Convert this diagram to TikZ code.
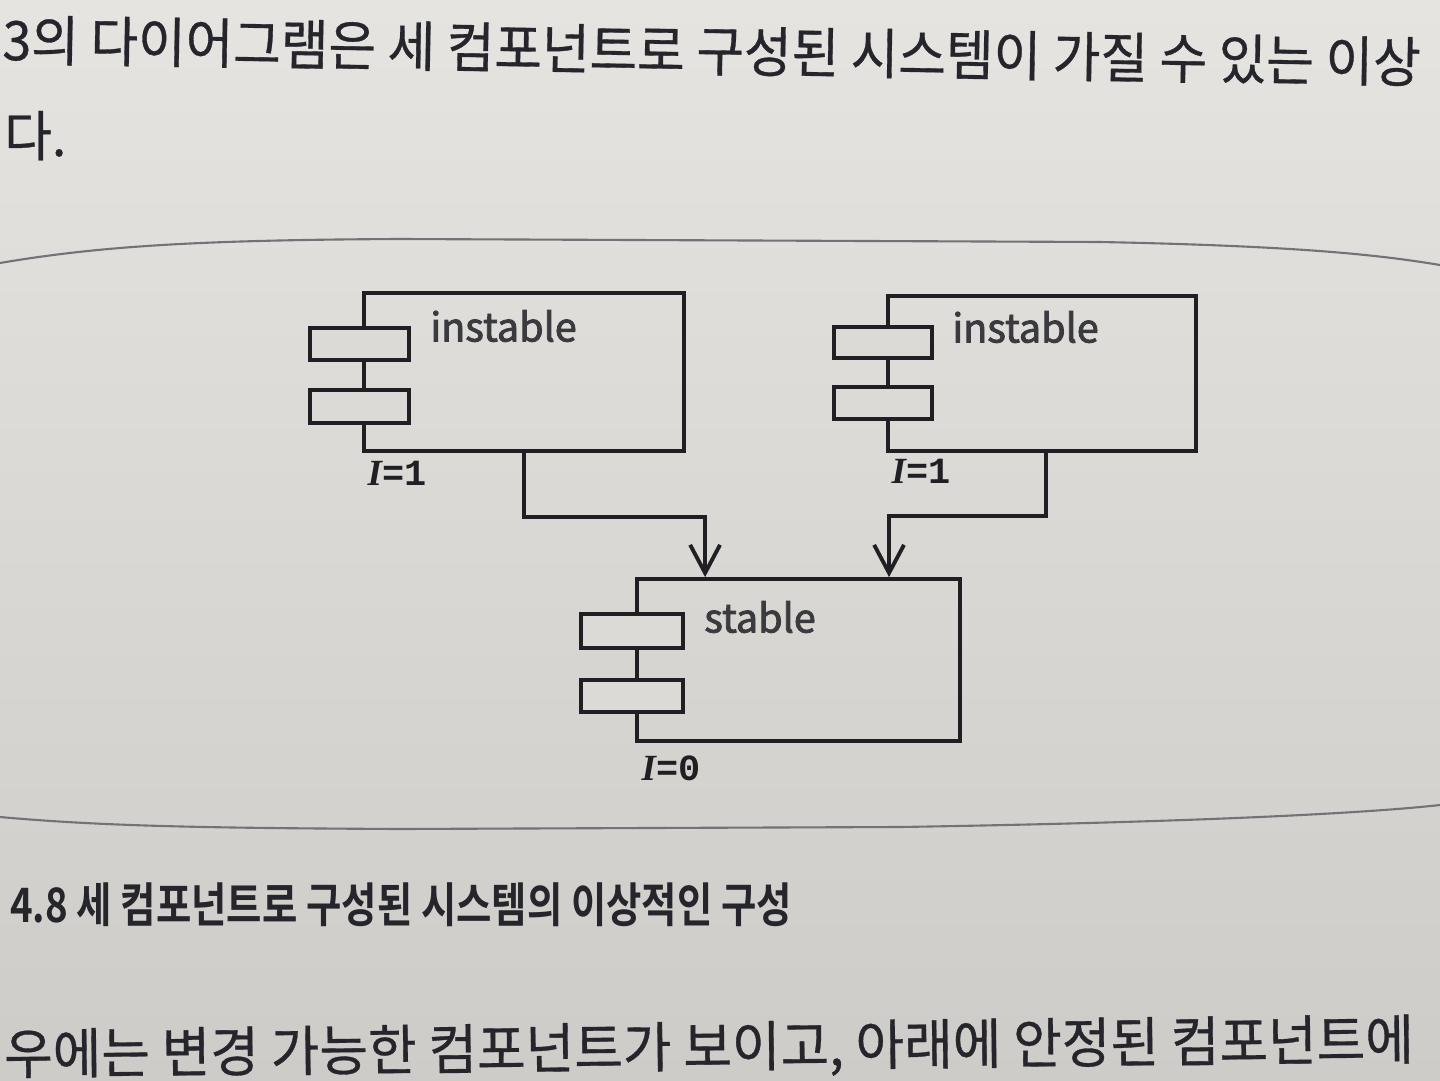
\documentclass[tikz,border=0pt]{standalone}
\usepackage{fontspec}
\setmainfont{Noto Sans CJK KR}
\newfontfamily\kr{Noto Sans CJK KR}[FakeBold=0.6]
\newfontfamily\krb{Noto Sans CJK KR}[BoldFont={* Bold}]
\newfontfamily\lab{Noto Sans CJK KR}[FakeBold=2.2]
\newfontfamily\serifI{Liberation Serif}
\newfontfamily\monob{Liberation Mono}
\usetikzlibrary{arrows.meta,calc}
\definecolor{paper}{RGB}{219,218,214}
\definecolor{papertop}{RGB}{229,228,225}
\definecolor{paperbot}{RGB}{206,204,200}
\definecolor{ink}{RGB}{32,31,36}
\definecolor{txt}{RGB}{38,37,43}
\definecolor{rule}{RGB}{115,114,118}
\tikzset{
  mainbox/.style={draw=ink, line width=2.2pt, fill=none, inner sep=0pt},
  tab/.style={draw=ink, line width=2.2pt, fill=paper, inner sep=0pt},
  conn/.style={draw=ink, line width=2.2pt, -{Straight Barb[length=16pt,width=17pt,line width=2.2pt]}},
  comptext/.style={anchor=west, inner sep=0pt, text=ink!88!white, font=\lab\fontsize{22.5}{27}\selectfont},
  ilabel/.style={inner sep=0pt, text=ink, font=\fontsize{21}{24}\selectfont},
  bodytext/.style={anchor=base west, inner sep=0pt, text=txt},
}
\newcommand{\Ilab}[1]{{\serifI\bfseries\itshape I}{\monob\bfseries =#1}}
\begin{document}
\begin{tikzpicture}[x=0.02cm,y=-0.02cm]
\useasboundingbox (0,0) rectangle (1440,1081);
\shade[top color=papertop, bottom color=paperbot] (0,0) rectangle (1440,1081);
% body text
\node[bodytext, rotate=-0.9, font=\kr\fontsize{31}{36}\selectfont, xscale=0.95] (t1) at (2,60)
  {3의 다이어그램은 세 컴포넌트로 구성된 시스템이 가질 수 있는 이상};
\node[bodytext, font=\kr\fontsize{31}{36}\selectfont, xscale=0.95] (t2) at (4,156) {다.};
\node[bodytext, rotate=0.6, font=\kr\fontsize{31}{36}\selectfont, xscale=0.97] (t3) at (4,1074)
  {우에는 변경 가능한 컴포넌트가 보이고, 아래에 안정된 컴포넌트에};
% caption
\node[bodytext, font=\krb\bfseries\fontsize{27}{32}\selectfont, xscale=0.81] (cap) at (10,922)
  {4.8 세 컴포넌트로 구성된 시스템의 이상적인 구성};
% frame rules
\draw[rule, line width=1.2pt] (0,263) .. controls (100,246) and (200,240) .. (400,239) -- (1100,242) .. controls (1300,246) and (1380,255) .. (1440,265);
\draw[rule, line width=1.2pt] (0,817) .. controls (100,826) and (200,828) .. (400,829) -- (900,827) .. controls (1150,823) and (1350,815) .. (1440,805);
% components
\node[mainbox, minimum width=6.4cm, minimum height=3.16cm] (L) at (524,372) {};
\node[tab, minimum width=1.98cm, minimum height=0.64cm] (L1) at (359.5,344) {};
\node[tab, minimum width=1.98cm, minimum height=0.66cm] (L2) at (359.5,406.5) {};
\node[comptext] (Lt) at (430,326) {instable};
\node[ilabel] (Li) at (397,473) {\Ilab{1}};

\node[mainbox, minimum width=6.16cm, minimum height=3.1cm] (R) at (1042,373.5) {};
\node[tab, minimum width=1.96cm, minimum height=0.62cm] (R1) at (883,342.5) {};
\node[tab, minimum width=1.96cm, minimum height=0.64cm] (R2) at (883,403) {};
\node[comptext] (Rt) at (952,327) {instable};
\node[ilabel] (Ri) at (921,471) {\Ilab{1}};

\node[mainbox, minimum width=6.46cm, minimum height=3.24cm] (S) at (798.5,660) {};
\node[tab, minimum width=2.04cm, minimum height=0.68cm] (S1) at (632,631) {};
\node[tab, minimum width=2.04cm, minimum height=0.64cm] (S2) at (632,696) {};
\node[comptext] (St) at (704,617) {stable};
\node[ilabel] (Si) at (671,768) {\Ilab{0}};

% dependencies
\draw[conn] (L.south) -- (524,517) -| ([xshift=1.4cm]S.north west);
\draw[conn] ([xshift=0.08cm]R.south) -- (1046,516) -| ([xshift=5.08cm]S.north west);
\end{tikzpicture}
\end{document}
